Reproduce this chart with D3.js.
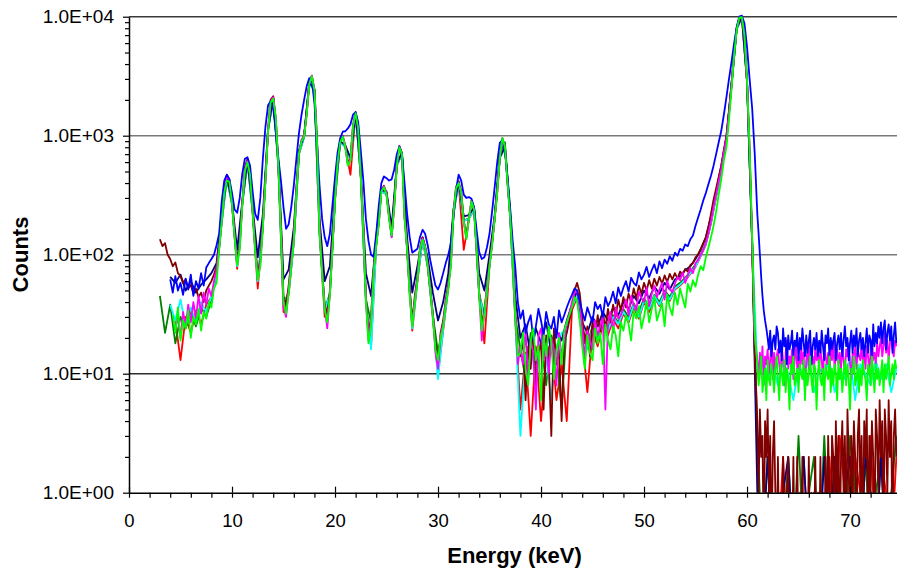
<!DOCTYPE html>
<html lang="en">
<head>
<meta charset="UTF-8">
<title>Energy spectra</title>
<script src="https://cdn.jsdelivr.net/npm/d3@7/dist/d3.min.js"></script>
<style>
  body { margin: 0; background: #fff; }
  text { font-family: Arial, "Liberation Sans", sans-serif; }
</style>
</head>
<body>
<svg id="main" width="897" height="569"></svg>
<script>
// channel calibration in keV
const startKeV = 3.0;
const fineStep = 0.25;    // blue, maroon, magenta, lime up to 60.75 keV
const coarseStep = 0.5;   // navy, red, dark green, cyan
const tailStartKeV = 61.0;
const tailStep = 0.125;   // blue, maroon, magenta, lime from 61 keV

const xTicks = [0, 10, 20, 30, 40, 50, 60, 70];
const yTicks = [1, 10, 100, 1000, 10000];
const yTickLabels = ["1.0E+00", "1.0E+01", "1.0E+02", "1.0E+03", "1.0E+04"];

// counts 3.0 - 60.75 keV, one row = 5 keV
const lime = [
  null,null,null,null,null,31,22,36,19,28,24,34,20,30,26,35,23,33,29,40,
  36,52,58,110,190,330,420,410,270,140,82,110,260,500,600,470,230,105,62,80,
  170,420,1100,1900,2050,1400,560,150,40,32,48,80,130,330,700,900,980,1500,2700,3150,
  2400,900,150,70,35,27,45,110,290,600,880,980,800,560,620,1200,1550,1150,450,160,
  40,18,26,70,120,180,340,370,320,200,145,250,560,800,700,200,110,45,25,40,
  60,110,134,115,80,50,30,16,13,20,25,38,52,80,220,360,400,330,190,135,
  200,280,240,110,45,23,32,50,80,120,200,330,650,960,800,400,210,95,30,14,
  15,22,11,8,19,24,13,17,6,21,14,25,18,9,16,20,12,23,27,31,
  36,44,41,28,17,11,21,15,13,24,18,22,12,26,19,16,25,21,14,27,
  23,31,26,19,34,29,37,24,30,41,27,35,44,28,33,39,25,46,36,31,
  48,38,52,43,36,57,49,61,54,68,80,74,95,115,140,175,230,320,430,620,
  800,1350,2500,4800,7800,9800,9900,7000,2900,800,140,22
];

const blue = [
  null,null,null,null,62,48,66,50,58,46,63,51,68,45,60,52,70,55,78,85,
  92,100,120,150,280,420,470,430,330,240,225,300,480,640,660,560,340,220,196,300,
  650,1200,1800,1950,1700,1100,650,420,250,165,180,250,380,640,1050,1500,2000,2600,3050,2900,
  1900,900,380,200,140,118,150,260,450,720,950,1080,1090,1150,1250,1500,1580,1300,750,420,
  200,130,100,96,150,260,400,455,440,420,430,520,700,810,700,400,220,140,104,108,
  112,140,162,150,120,90,70,55,51,58,70,85,100,125,200,350,470,420,320,300,
  305,295,250,160,105,92,95,115,150,230,370,600,870,920,750,450,250,130,79,40,
  29,34,22,27,31,19,25,35,28,21,33,26,24,30,20,34,27,31,36,41,
  46,52,50,41,33,28,36,31,27,40,35,38,30,44,37,41,49,39,53,45,
  53,60,49,64,58,55,71,62,68,79,65,74,83,70,88,77,91,84,97,89,
  104,98,112,108,122,118,135,145,175,205,240,285,330,390,460,560,700,880,1100,1500,
  2100,3000,4200,6000,8200,10000,10200,8800,5600,3000,1700,700
];

const maroon = [
  135,118,125,100,92,80,86,70,66,58,62,52,56,47,52,44,48,40,50,55,
  60,68,80,120,200,350,470,430,280,150,90,120,280,540,640,490,240,115,70,90,
  190,450,1150,2000,2150,1400,580,170,45,38,55,90,140,350,720,920,1000,1550,2800,3200,
  2450,950,170,75,38,30,50,120,300,620,900,1000,820,580,640,1220,1580,1180,470,170,
  45,21,30,75,125,185,350,380,330,210,150,260,570,820,710,210,115,50,28,45,
  65,115,140,118,82,52,32,18,12,22,28,42,56,85,230,370,410,340,195,140,
  205,285,245,115,48,25,35,52,85,125,205,340,660,950,790,410,215,100,33,15,
  14,20,6,17,11,22,8,15,18,5,21,13,3,24,12,16,4,19,22,28,
  35,50,58,48,30,18,25,14,28,20,31,22,33,24,35,27,38,30,42,34,
  44,36,47,40,52,43,55,47,58,50,61,52,63,55,65,57,67,59,69,62,
  70,63,72,68,76,72,82,85,95,100,112,125,140,170,220,290,360,450,560,760,
  1000,1600,2800,5000,8000,9900,9800,6800,2800,750,120,15
];

const magenta = [
  null,null,null,null,null,null,24,30,20,33,25,38,27,40,29,45,32,48,38,52,
  45,60,75,115,195,340,460,420,275,145,85,115,270,520,620,480,235,110,64,85,
  180,430,1120,1950,2100,1380,570,160,36,30,50,85,135,340,710,910,990,1520,2750,3180,
  2420,920,160,72,36,24,48,115,295,610,890,990,810,570,630,1210,1560,1160,460,165,
  42,19,28,72,122,182,345,375,325,205,140,255,565,815,705,205,112,47,26,42,
  62,112,137,116,81,51,31,15,11,21,26,40,54,82,225,365,405,335,192,137,
  202,282,242,112,46,19,33,51,82,122,202,335,655,955,795,405,212,97,31,12,
  17,12,23,9,19,15,5,21,24,13,18,10,20,16,8,22,14,19,27,32,
  40,48,49,38,24,14,23,19,16,28,21,25,30,5,27,33,22,36,29,31,
  36,42,31,45,38,34,49,43,40,53,37,47,55,44,51,58,42,60,52,48,
  57,65,61,71,58,67,77,70,85,90,100,110,125,150,190,250,320,410,520,720,
  950,1550,2700,4950,8000,10000,9900,7000,2900,780,130,20
];

// counts 61.0 - 74.5 keV, one row = 2 keV
const limeTail = [
  12,8,10,14,7,9,11,6,13,9,8,12,10,7,11,14,
  9,6,12,10,8,13,7,11,9,5,12,10,14,8,9,11,
  7,12,10,9,13,6,11,8,10,14,9,7,12,11,5,10,
  13,9,8,11,6,12,10,9,14,7,11,8,12,10,6,13,
  9,11,7,10,13,8,12,9,5,11,10,14,8,9,12,7,
  11,8,13,10,9,6,12,11,8,14,10,7,12,9,11,8,
  10,13,7,12,9,11,14,8,10,12,9,13,11
];

const blueTail = [
  220,150,100,65,45,34,28,24,20,16,23,14,19,21,16,25,
  22,15,19,13,24,17,20,12,21,16,18,23,14,19,17,22,
  13,20,16,24,18,14,21,15,19,23,12,17,20,16,22,14,
  19,15,23,17,13,21,18,24,14,20,16,19,22,13,18,21,
  16,22,14,19,25,17,20,13,18,23,15,21,17,24,14,19,
  22,16,20,14,18,24,15,21,19,13,26,17,22,18,25,20,
  27,18,24,28,16,22,26,19,25,15,21,27,18
];

const maroonTail = [
  4,1,5,2,3,0,4,2,5,1,3,0,2,4,1,0,
  2,0,1,0,2,0,0,1,2,0,1,0,2,0,0,2,
  0,1,0,2,0,0,1,0,2,0,1,0,0,2,0,1,
  0,2,0,1,0,2,0,3,1,0,3,2,0,4,1,3,
  0,2,4,1,3,0,5,2,0,3,1,4,2,0,3,5,
  1,3,0,4,2,5,0,3,1,4,2,0,5,3,1,6,
  2,4,0,5,3,1,6,2,4,0,3,5,2
];

const magentaTail = [
  13,9,15,11,17,8,14,12,16,10,13,18,9,15,11,14,
  16,12,10,17,13,8,15,19,11,14,12,16,9,13,17,11,
  14,10,18,12,15,7,13,16,11,19,12,14,10,17,13,15,
  11,16,13,9,18,14,12,15,10,17,13,19,11,14,16,12,
  15,11,17,13,10,16,14,18,12,9,15,13,17,11,16,14,
  13,18,12,15,11,17,14,10,16,19,13,15,12,18,14,17,
  20,14,17,22,15,19,13,18,21,16,14,19,17
];

// counts 3.0 - 74.5 keV at 0.5 keV, one row = 5 keV
const cyan = [
  null,null,38,28,42,25,36,27,40,33,
  45,70,185,440,265,80,265,610,228,60,
  175,1100,2080,555,38,47,128,700,975,2720,
  2410,152,34,46,290,885,805,625,1545,455,
  41,16,120,342,322,142,562,702,110,24,
  61,135,80,30,9,24,53,222,402,191,
  201,241,46,30,81,201,652,798,211,29,
  3,14,18,9,20,14,6,17,22,24,
  36,46,22,16,24,19,27,23,30,26,
  33,28,38,30,41,35,45,38,48,42,
  52,56,62,70,80,98,122,185,310,500,
  920,2650,7900,9900,2850,125,11,14,9,12,
  8,13,10,6,12,9,14,7,11,10,
  13,7,11,9,14,6,12,10,8,13,
  9,12,7,11
];

const darkGreen = [
  45,22,38,18,30,24,33,25,36,30,
  42,72,188,445,268,81,268,615,230,61,
  176,1105,2090,560,39,48,129,705,978,2730,
  2420,155,35,47,292,888,808,628,1560,458,
  42,27,121,344,324,144,564,712,111,26,
  62,138,81,31,15,26,54,224,415,193,
  203,243,47,31,83,205,700,880,213,30,
  16,9,22,12,19,8,21,15,5,26,
  37,47,24,18,25,20,28,24,31,27,
  35,30,39,33,43,36,46,40,50,44,
  54,58,64,72,83,100,126,190,315,510,
  930,2680,7950,10000,2880,128,3,0,2,0,
  1,0,2,0,3,0,1,2,0,3,
  0,2,1,0,3,1,0,2,0,1,
  2,0,1,3
];

const red = [
  null,null,null,28,13,30,22,34,26,38,
  44,68,186,442,266,76,266,612,229,52,
  174,1102,2085,558,33,46,127,702,976,2725,
  2415,150,30,45,291,886,806,470,1550,456,
  40,17,119,341,321,141,561,701,109,23,
  60,133,79,29,10,23,52,221,400,110,
  200,240,45,18,80,200,650,795,210,28,
  5,15,3,17,4,14,19,6,12,4,
  34,44,20,7,23,17,26,21,29,24,
  32,27,36,29,40,33,44,37,47,41,
  51,55,61,69,79,97,121,183,305,495,
  915,2640,7880,9850,2840,122,2,0,1,0,
  0,2,0,1,0,2,0,0,1,0,
  2,0,3,1,0,2,1,0,3,0,
  2,1,0,2
];

const navy = [
  null,null,65,58,68,50,60,48,56,62,
  70,85,210,450,280,110,280,620,250,95,
  220,1150,2050,600,62,75,170,750,1000,2800,
  2450,200,60,80,330,900,830,650,1560,500,
  70,45,140,350,340,170,580,720,140,48,
  80,140,95,48,28,40,70,240,410,210,
  215,250,70,50,100,215,660,800,230,45,
  20,26,14,24,18,27,15,23,19,28,
  38,50,27,22,30,25,33,28,36,31,
  40,35,45,39,50,43,54,47,58,51,
  62,66,74,80,92,110,140,210,340,560,
  980,2750,8000,9950,2900,130,1,0,2,0,
  0,1,2,0,0,2,0,1,0,2,
  0,2,0,1,2,0,0,2,1,0,
  2,0,1,0
];

// draw order: first is at the back
const series = [
  { color: "#ff0000", step: coarseStep, values: red, tail: [] },
  { color: "#008000", step: coarseStep, values: darkGreen, tail: [] },
  { color: "#00ffff", step: coarseStep, values: cyan, tail: [] },
  { color: "#000080", step: coarseStep, values: navy, tail: [] },
  { color: "#800000", step: fineStep, values: maroon, tail: maroonTail },
  { color: "#ff00ff", step: fineStep, values: magenta, tail: magentaTail },
  { color: "#0000ff", step: fineStep, values: blue, tail: blueTail },
  { color: "#00ff00", step: fineStep, values: lime, tail: limeTail }
];

const svg = d3.select('svg#main');
const plotLeft = 129, plotRight = 897, plotTop = 16.7, plotBottom = 492.7;

const x = d3.scaleLinear().domain([0, 74.56]).range([plotLeft, plotRight]);
const y = d3.scaleLog().domain([1, 10000]).range([plotBottom, plotTop]);

svg.append("clipPath").attr("id", "plotClip")
  .append("rect")
  .attr("x", plotLeft).attr("y", 0)
  .attr("width", plotRight - plotLeft).attr("height", plotBottom);

// gridlines
const gridColor = { 10: "#2e2e2e", 100: "#7a7a7a", 1000: "#7a7a7a", 10000: "#3a3a3a" };
svg.append("g")
  .selectAll("line")
  .data(yTicks.filter(d => d > 1))
  .enter()
  .append("line")
  .attr("x1", plotLeft).attr("x2", plotRight)
  .attr("y1", d => y(d)).attr("y2", d => y(d))
  .attr("stroke", d => gridColor[d])
  .attr("stroke-width", 1.4);

// spectra
const line = d3.line()
  .defined(d => d.v != null)
  .x(d => x(d.e))
  .y(d => y(Math.max(d.v, 0.3)));

const lines = svg.append("g").attr("clip-path", "url(#plotClip)");
series.forEach(function(s) {
  const pts = s.values.map((v, i) => ({ e: startKeV + i * s.step, v: v }))
    .concat(s.tail.map((v, i) => ({ e: tailStartKeV + i * tailStep, v: v })));
  lines.append("path")
    .datum(pts)
    .attr("fill", "none")
    .attr("stroke", s.color)
    .attr("stroke-width", 1.8)
    .attr("stroke-linejoin", "round")
    .attr("d", line);
});

// minor tick positions
const yMinor = [];
[1, 10, 100, 1000].forEach(function(p) {
  for (let k = 2; k <= 9; k++) yMinor.push(p * k);
});
const xMinor = d3.range(2, 74, 2).filter(d => d % 10 !== 0);

// y axis
svg.append("g")
  .attr("transform", "translate(" + plotLeft + ",0)")
  .call(d3.axisLeft(y).tickValues(yMinor).tickSize(4).tickFormat(""))
  .call(g => g.select(".domain").remove());

const yAxis = svg.append("g")
  .attr("transform", "translate(" + plotLeft + ",0)")
  .call(d3.axisLeft(y).tickValues(yTicks).tickSize(6).tickSizeOuter(0).tickPadding(9)
    .tickFormat((d, i) => yTickLabels[i]));
yAxis.selectAll("text").attr("font-size", "19px").attr("fill", "#000");

// x axis
svg.append("g")
  .attr("transform", "translate(0," + plotBottom + ")")
  .call(d3.axisBottom(x).tickValues(xMinor).tickSize(5).tickFormat(""))
  .call(g => g.select(".domain").remove());

svg.append("g")
  .attr("transform", "translate(0," + plotBottom + ")")
  .call(d3.axisTop(x).tickValues(xTicks).tickSize(6).tickFormat(""))
  .call(g => g.select(".domain").remove());

const xAxis = svg.append("g")
  .attr("transform", "translate(0," + plotBottom + ")")
  .call(d3.axisBottom(x).tickValues(xTicks).tickSize(5).tickSizeOuter(0).tickPadding(16));
xAxis.selectAll("text").attr("font-size", "18.5px").attr("fill", "#000");

svg.selectAll(".domain").attr("stroke", "#000").attr("stroke-width", 1.5);
svg.selectAll(".tick line").attr("stroke", "#000").attr("stroke-width", 1.2);

// axis titles
svg.append("text")
  .attr("transform", "translate(28,254.5) rotate(-90)")
  .attr("text-anchor", "middle")
  .attr("font-size", "22px")
  .attr("font-weight", "bold")
  .text("Counts");

svg.append("text")
  .attr("x", 514.5).attr("y", 563)
  .attr("text-anchor", "middle")
  .attr("font-size", "22px")
  .attr("font-weight", "bold")
  .text("Energy (keV)");
</script>
</body>
</html>
